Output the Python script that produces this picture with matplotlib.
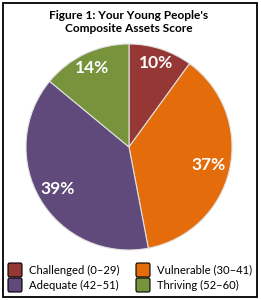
import numpy as np
import matplotlib.pyplot as plt
import matplotlib.patches as mpatches

labels = ["Challenged (0\u201329)", "Vulnerable (30\u201341)", "Adequate (42\u201351)", "Thriving (52\u201360)"]
shares = [10, 37, 39, 14]
colors = ["#953735", "#E46C0A", "#604A7B", "#77933C"]
title = "Figure 1: Your Young People's\nComposite Assets Score"

W, H = 261, 300
fig = plt.figure(figsize=(W / 100, H / 100), dpi=100)
fig.patch.set_facecolor("white")

# outer frame
fig.patches.append(mpatches.Rectangle((3 / W, 3 / H), 254 / W, 294 / H, transform=fig.transFigure,
                                      fill=False, edgecolor="black", linewidth=1.3))

fig.text(129 / W, 1 - 22 / H, title, ha="center", va="center", fontsize=8.6,
         fontweight="bold", family="Lato", linespacing=1.25)

# pie: center (129,147) px, radius 103 px
cx, cy, r = 129, 147, 103
ax = fig.add_axes([(cx - r) / W, (H - cy - r) / H, 2 * r / W, 2 * r / H])
wedges, texts, autotexts = ax.pie(shares, colors=colors, startangle=90, counterclock=False,
                                  autopct="%d%%", pctdistance=0.83,
                                  wedgeprops=dict(edgecolor="#e0e0e0", linewidth=0.8),
                                  textprops=dict(color="white", fontsize=12.5, fontweight="bold", family="Lato"))
ax.set_xlim(-1, 1)
ax.set_ylim(-1, 1)
ax.set_aspect("equal")

# fine-tune per-slice label distance
dist = [0.86, 0.79, 0.80, 0.85]
for t, w, d in zip(autotexts, wedges, dist):
    a = np.deg2rad((w.theta1 + w.theta2) / 2)
    t.set_position((d * np.cos(a), d * np.sin(a)))

# legend drawn by hand: 2x2 grid, (column x of swatch, row y center) in px
col_x = [8, 136]
row_y = [270, 285]
slots = [(0, 0), (1, 0), (0, 1), (1, 1)]  # (col, row) per category
sw = 14
for (c, rr), lab, colr in zip(slots, labels, colors):
    x0, y0 = col_x[c], row_y[rr]
    fig.patches.append(mpatches.FancyBboxPatch((x0 / W, (H - y0 - sw / 2) / H), sw / W, sw / H,
                                               boxstyle="round,pad=0,rounding_size=0.006",
                                               transform=fig.transFigure, facecolor=colr,
                                               edgecolor="black", linewidth=0.8))
    fig.text((x0 + sw + 7) / W, 1 - y0 / H, lab, ha="left", va="center",
             fontsize=8.1, family="Lato")

fig.savefig("out.png", dpi=100)
